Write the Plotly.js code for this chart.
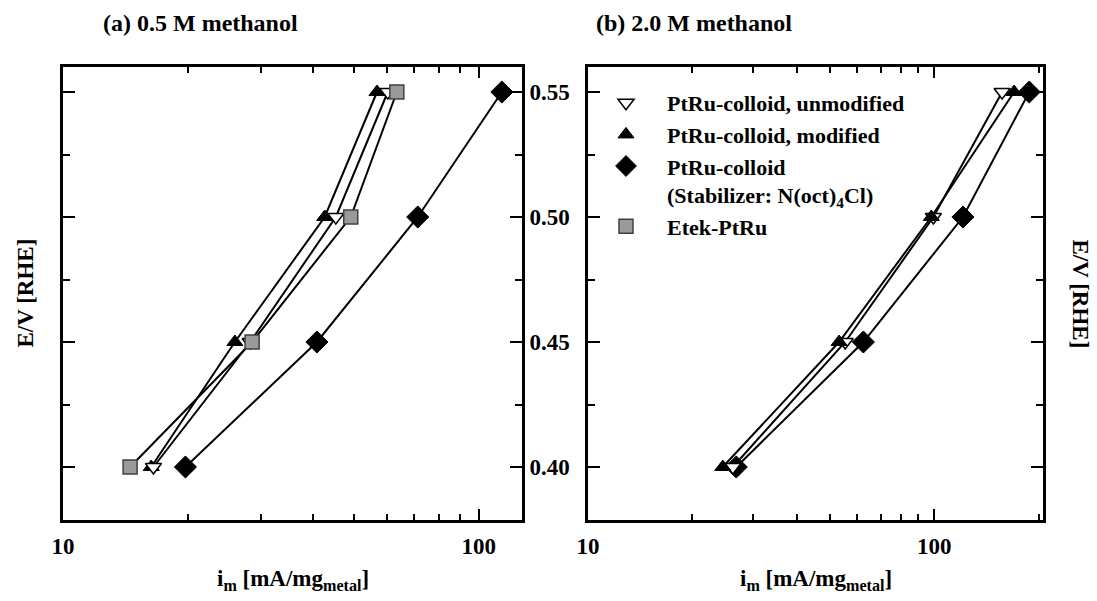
<!DOCTYPE html>
<html>
<head>
<meta charset="utf-8">
<script src="https://cdn.plot.ly/plotly-3.0.1.min.js"></script>
<style>html,body{margin:0;padding:0;background:#fff;}</style>
</head>
<body>
<div id="chart" style="width:1097px;height:601px;"></div>
<script>
// ---- data ----
const potentials = [0.40, 0.45, 0.50, 0.55];           // E/V [RHE]
// (a) 0.5 M methanol, i_m [mA/mg_metal]
const a_unmodified = [16.5, 28.2, 45.3, 60.4];
const a_modified   = [16.3, 25.9, 42.6, 56.9];
const a_stabilizer = [19.7, 40.8, 71.3, 113.6];
const a_etek       = [14.5, 28.5, 49.2, 63.5];
// (b) 2.0 M methanol
const b_unmodified = [26.2, 55.3, 99.4, 157];
const b_modified   = [24.5, 53.1, 98.0, 170];
const b_stabilizer = [26.8, 62.4, 121, 188];

const seriesNames = ['PtRu-colloid, unmodified', 'PtRu-colloid, modified',
  'PtRu-colloid<br>(Stabilizer: N(oct)<sub>4</sub>Cl)', 'Etek-PtRu'];
const panelTitles = ['(a) 0.5 M methanol', '(b) 2.0 M methanol'];
const xTitle = 'i<sub>m</sub> [mA/mg<sub>metal</sub>]';
const yTitle = 'E/V [RHE]';
const xMajorTicks = [10, 100];
const xMajorText = ['10', '100'];
const xMinorTicks = [20, 30, 40, 50, 60, 70, 80, 90, 200];
const yMajorTicks = [0.40, 0.45, 0.50, 0.55];
const yMajorText = ['0.40', '0.45', '0.50', '0.55'];
const yMinorTicks = [0.425, 0.475, 0.525];

// ---- styles ----
const styles = [
  {symbol: 'triangle-down', color: '#ffffff', line: {color: '#000', width: 1.5}, size: 14},
  {symbol: 'triangle-up', color: '#000000', line: {color: '#000', width: 1}, size: 14},
  {symbol: 'diamond', color: '#000000', line: {color: '#000', width: 1}, size: 17},
  {symbol: 'square', color: '#9a9a9a', line: {color: '#404040', width: 1.5}, size: 14}
];

function tr(x, idx, xa, ya) {
  return {x: x, y: potentials, xaxis: xa, yaxis: ya, type: 'scatter', mode: 'lines+markers',
    line: {color: '#000', width: 2}, marker: styles[idx], showlegend: false, cliponaxis: false,
    hoverinfo: 'x+y'};
}

const data = [
  tr(a_stabilizer, 2, 'x', 'y'),
  tr(a_modified, 1, 'x', 'y'),
  tr(a_unmodified, 0, 'x', 'y'),
  tr(a_etek, 3, 'x', 'y'),
  tr(b_stabilizer, 2, 'x2', 'y2'),
  tr(b_unmodified, 0, 'x2', 'y2'),
  tr(b_modified, 1, 'x2', 'y2')
];
// legend-only entries
seriesNames.forEach((n, i) => {
  data.push({x: [null], y: [null], xaxis: 'x2', yaxis: 'y2', type: 'scatter', mode: 'markers',
    name: n, marker: styles[i], showlegend: true, hoverinfo: 'skip'});
});

// ---- layout ----
const W = 1097, H = 601, L = 63, R = 54, T = 67, B = 81;
const pw = W - L - R, ph = H - T - B;
const px = v => (v - L) / pw;
const py = v => (H - B - v) / ph;

const fontBase = {family: 'Liberation Serif, Times New Roman, serif', size: 22, color: '#000', weight: 'bold'};
const fontTick = Object.assign({}, fontBase, {size: 23});
const fontTitle = Object.assign({}, fontBase, {size: 24});

function xaxisDef(domain, maxVal, anchor) {
  return {type: 'log', domain: domain, range: [1, Math.log10(maxVal)], anchor: anchor,
    tickmode: 'array', tickvals: xMajorTicks, ticktext: xMajorText,
    ticks: 'inside', ticklen: 11, tickwidth: 2, tickcolor: '#000',
    linecolor: '#000', linewidth: 3, mirror: 'ticks', showline: true,
    showgrid: false, zeroline: false, ticklabelstandoff: 3,
    tickfont: fontTick,
    minor: {tickmode: 'array', tickvals: xMinorTicks, ticks: 'inside', ticklen: 6, tickwidth: 2, tickcolor: '#000', showgrid: false}};
}
function yaxisDef(anchor, showLabels) {
  return {range: [0.3788, 0.56], anchor: anchor, side: 'right',
    tickmode: 'array', tickvals: yMajorTicks, ticktext: yMajorText, showticklabels: showLabels,
    ticks: 'inside', ticklen: 12, tickwidth: 2, tickcolor: '#000',
    linecolor: '#000', linewidth: 3, mirror: 'ticks', showline: true,
    showgrid: false, zeroline: false, ticklabelstandoff: 0,
    tickfont: fontTick,
    minor: {tickmode: 'array', tickvals: yMinorTicks, ticks: 'inside', ticklen: 7, tickwidth: 2, tickcolor: '#000', showgrid: false}};
}

const layout = {
  width: W, height: H,
  margin: {l: L, r: R, t: T, b: B, pad: 0},
  paper_bgcolor: '#fff', plot_bgcolor: '#fff',
  font: fontBase,
  xaxis: xaxisDef([0, (522 - L) / pw], 127, 'y'),
  yaxis: yaxisDef('x', true),
  xaxis2: xaxisDef([(588 - L) / pw, 1], 206, 'y2'),
  yaxis2: yaxisDef('x2', false),
  showlegend: true,
  legend: {x: px(585), y: py(82), xanchor: 'left', yanchor: 'top', bgcolor: 'rgba(0,0,0,0)',
    font: fontBase, valign: 'top', itemwidth: 72, tracegroupgap: 0},
  annotations: [
    {text: panelTitles[0], xref: 'paper', yref: 'paper', x: px(200), y: py(23), xanchor: 'center', yanchor: 'middle', showarrow: false, font: fontTitle},
    {text: panelTitles[1], xref: 'paper', yref: 'paper', x: px(694), y: py(23), xanchor: 'center', yanchor: 'middle', showarrow: false, font: fontTitle},
    {text: xTitle, xref: 'paper', yref: 'paper', x: px(292.5), y: py(580), xanchor: 'center', yanchor: 'middle', showarrow: false, font: fontTick},
    {text: xTitle, xref: 'paper', yref: 'paper', x: px(815.5), y: py(580), xanchor: 'center', yanchor: 'middle', showarrow: false, font: fontTick},
    {text: yTitle, xref: 'paper', yref: 'paper', x: px(25), y: py(293.5), xanchor: 'center', yanchor: 'middle', textangle: -90, showarrow: false, font: fontTick},
    {text: yTitle, xref: 'paper', yref: 'paper', x: px(1080), y: py(293.5), xanchor: 'center', yanchor: 'middle', textangle: 90, showarrow: false, font: fontTick}
  ]
};

Plotly.newPlot('chart', data, layout, {displayModeBar: false, staticPlot: true});
</script>
</body>
</html>
